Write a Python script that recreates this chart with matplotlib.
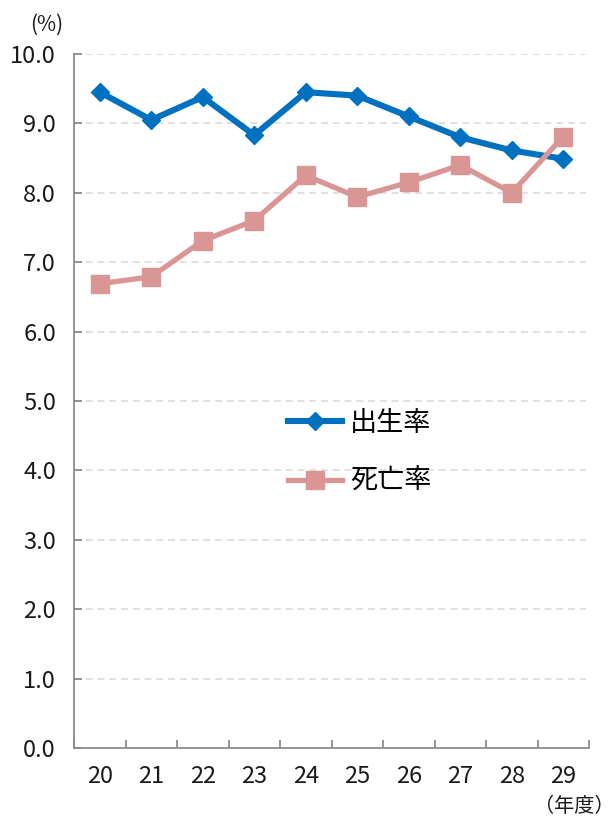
import matplotlib
matplotlib.use("Agg")
import matplotlib.pyplot as plt
import numpy as np

plt.rcParams['font.family'] = ['Noto Sans CJK JP', 'DejaVu Sans']

years = ["20", "21", "22", "23", "24", "25", "26", "27", "28", "29"]
birth_rate = [9.45, 9.05, 9.38, 8.83, 9.45, 9.40, 9.10, 8.80, 8.61, 8.49]
death_rate = [6.69, 6.79, 7.31, 7.60, 8.25, 7.94, 8.15, 8.40, 8.00, 8.81]
series_names = ["出生率", "死亡率"]
yticks = [0, 1, 2, 3, 4, 5, 6, 7, 8, 9, 10]

fig = plt.figure(figsize=(6.16, 8.16), dpi=100)
ax = fig.add_axes([74/616, 1-748/816, (589-74)/616, (748-54)/816])

x = np.arange(len(years))
grid_color = '#D9D9D9'
for v in yticks[1:]:
    ax.axhline(v, xmax=0.995, color=grid_color, lw=1.1, ls=(0, (4.5, 3.2)), zorder=0)

ax.plot(x, birth_rate, color='#0070C0', lw=4.4, marker='D', markersize=9.5,
        label=series_names[0], zorder=3)
ax.plot(x, death_rate, color='#D99694', lw=3.8, marker='s', markersize=13.5,
        label=series_names[1], zorder=3)

ax.set_xlim(-0.5, len(years) - 0.5)
ax.set_ylim(0, 10)
ax.set_yticks(yticks)
ax.set_yticklabels([f"{v:.1f}" for v in yticks])
ax.set_xticks(x)
ax.set_xticklabels(years)
ax.set_xticks(np.arange(-0.5, len(years), 1.0), minor=True)

axis_color = '#8C8C8C'
for s in ['top', 'right']:
    ax.spines[s].set_visible(False)
for s in ['left', 'bottom']:
    ax.spines[s].set_color(axis_color)
    ax.spines[s].set_linewidth(1.3)

ax.tick_params(axis='y', direction='in', length=6, width=1.3, color=axis_color,
               labelsize=17, pad=13, labelcolor='#1a1a1a')
ax.tick_params(axis='x', which='major', length=0, labelsize=17, pad=12,
               labelcolor='#1a1a1a')
ax.tick_params(axis='x', which='minor', direction='in', length=6, width=1.3,
               color=axis_color)

fig.text(47/616, 1-25/816, "(%)", ha='center', va='center', fontsize=15, color='#1a1a1a')
fig.text(615/616, 1-806/816, "（年度）", ha='right', va='center', fontsize=14.5, color='#1a1a1a')

leg = ax.legend(loc='center left', bbox_to_anchor=(288/616, 1-452.5/816),
                bbox_transform=fig.transFigure, frameon=False, fontsize=19.5,
                handlelength=2.0, handletextpad=0.3, labelspacing=1.15,
                borderpad=0, borderaxespad=0)

fig.savefig("out.png", dpi=100)
